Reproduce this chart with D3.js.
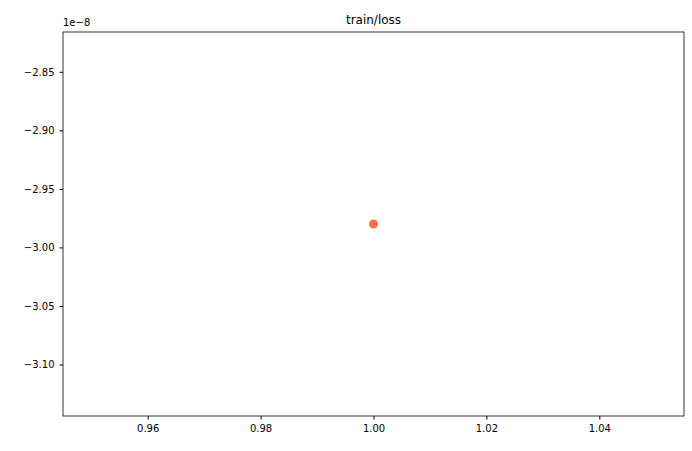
<!DOCTYPE html>
<html><head><meta charset="utf-8">
<script src="https://cdn.jsdelivr.net/npm/d3@7"></script>
<style>body{margin:0;background:#fff}text{font-family:"DejaVu Sans",sans-serif}</style>
</head><body><svg id="c" width="692" height="451"></svg>
<script>
const xs=[1];
const ys=[-2.98];   // in units of 1e-8
const xTicks=[0.96,0.98,1.00,1.02,1.04];
const yTicks=[-2.85,-2.90,-2.95,-3.00,-3.05,-3.10];
const title="train/loss";
const svg=d3.select("#c");
const L=63,R=684,T=32,B=416;
const x=d3.scaleLinear().domain([0.945,1.055]).range([L,R]);
const y=d3.scaleLinear().domain([-3.144,-2.816]).range([B,T]);
const xa=svg.append("g").attr("transform",`translate(0,${B})`).call(d3.axisBottom(x).tickValues(xTicks).tickFormat(d3.format(".2f")).tickSize(3.5).tickPadding(5));
const ya=svg.append("g").attr("transform",`translate(${L},0)`).call(d3.axisLeft(y).tickValues(yTicks).tickFormat(d=>d3.format(".2f")(d).replace("-","\u2212")).tickSize(3.5).tickPadding(5));
[xa,ya].forEach(a=>{a.select(".domain").remove();a.selectAll("text").attr("font-size",10).attr("fill","#000");a.selectAll("line").attr("stroke","#000");});
svg.append("rect").attr("x",L).attr("y",T).attr("width",R-L).attr("height",B-T).attr("fill","none").attr("stroke","#000").attr("stroke-width",0.8);
svg.append("text").attr("x",L).attr("y",T-6).attr("font-size",10).text("1e\u22128");
svg.append("text").attr("x",(L+R)/2).attr("y",T-8).attr("text-anchor","middle").attr("font-size",12).text(title);
svg.selectAll("circle.p").data(xs).enter().append("circle").attr("class","p").attr("cx",d=>x(d)).attr("cy",(d,i)=>y(ys[i])).attr("r",4.5).attr("fill","#ff7043");
</script></body></html>
